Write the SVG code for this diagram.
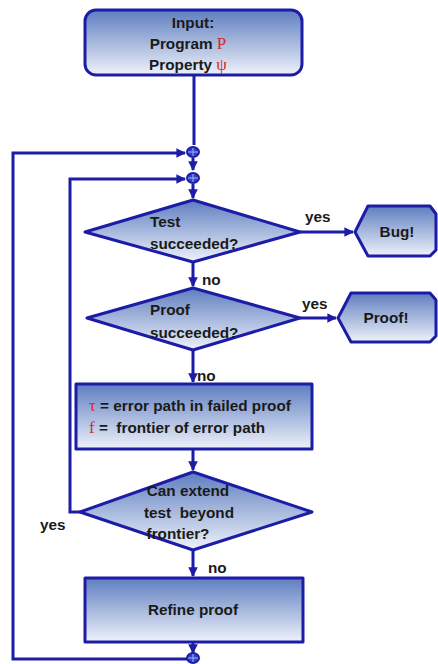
<svg xmlns="http://www.w3.org/2000/svg" width="438" height="664" viewBox="0 0 438 664">
<defs>
<linearGradient id="g" x1="0" y1="0" x2="0" y2="1">
<stop offset="0" stop-color="#5f7ec0"/>
<stop offset="1" stop-color="#eef2fa"/>
</linearGradient>
<marker id="ah" viewBox="0 0 10 10" refX="9" refY="5" markerWidth="3.2" markerHeight="3.2" orient="auto" markerUnits="strokeWidth">
<path d="M0,0 L10,5 L0,10 z" fill="#1c1ca6"/>
</marker>
</defs>
<style>
.sh{fill:url(#g);stroke:#1c1ca6;stroke-width:3;stroke-linejoin:round}
.ln{fill:none;stroke:#1c1ca6;stroke-width:3}
.t{font-family:"Liberation Sans",Arial,sans-serif;font-weight:bold;font-size:15.3px;fill:#1a1a1a;white-space:pre}
.r{font-family:"Liberation Serif","Times New Roman",serif;font-weight:normal;font-size:17px;fill:#d42a2a}
.j{fill:#3040c8;stroke:#1c1ca6;stroke-width:2}
.jx{stroke:#8fa6e8;stroke-width:1.2}
</style>

<g id="connectors">
<line class="ln" x1="194" y1="76" x2="194" y2="145"/>
<line class="ln" x1="193" y1="158" x2="193" y2="170" marker-end="url(#ah)"/>
<line class="ln" x1="193" y1="184" x2="193" y2="198" marker-end="url(#ah)"/>
<line class="ln" x1="300" y1="232" x2="353" y2="232" marker-end="url(#ah)"/>
<line class="ln" x1="193" y1="262" x2="193" y2="286" marker-end="url(#ah)"/>
<line class="ln" x1="300" y1="318" x2="336" y2="318" marker-end="url(#ah)"/>
<line class="ln" x1="193" y1="350" x2="193" y2="382" marker-end="url(#ah)"/>
<line class="ln" x1="193" y1="449" x2="193" y2="470" marker-end="url(#ah)"/>
<line class="ln" x1="193" y1="550" x2="193" y2="576" marker-end="url(#ah)"/>
<line class="ln" x1="193" y1="642" x2="193" y2="653" marker-end="url(#ah)"/>
<polyline class="ln" points="80,512 70,512 70,179 185,179" marker-end="url(#ah)"/>
<polyline class="ln" points="187,659 13,659 13,153 185,153" marker-end="url(#ah)"/>
<text class="t" x="305" y="222">yes</text>
<text class="t" x="302" y="309">yes</text>
<text class="t" x="202" y="285">no</text>
<text class="t" x="197" y="381">no</text>
<text class="t" x="208" y="573">no</text>
<text class="t" x="40" y="530">yes</text>
</g>

<g id="input">
<rect class="sh" x="85" y="10" width="217" height="65" rx="11"/>
<text class="t" x="193" y="28" text-anchor="middle">Input:</text>
<text class="t" x="188" y="49" text-anchor="middle">Program <tspan class="r">P</tspan></text>
<text class="t" x="188" y="70" text-anchor="middle">Property <tspan class="r">ψ</tspan></text>
</g>

<g id="junction1">
<ellipse class="j" cx="193" cy="152" rx="6" ry="5"/>
<line class="jx" x1="188" y1="152" x2="198" y2="152"/>
<line class="jx" x1="193" y1="148" x2="193" y2="156"/>
</g>
<g id="junction2">
<ellipse class="j" cx="193" cy="178" rx="6" ry="5"/>
<line class="jx" x1="188" y1="178" x2="198" y2="178"/>
<line class="jx" x1="193" y1="174" x2="193" y2="182"/>
</g>
<g id="junction3">
<ellipse class="j" cx="193" cy="658" rx="6" ry="5"/>
<line class="jx" x1="188" y1="658" x2="198" y2="658"/>
<line class="jx" x1="193" y1="654" x2="193" y2="662"/>
</g>

<g id="test">
<polygon class="sh" points="193,200 300,232 193,262 85,232"/>
<text class="t" x="150" y="227">Test</text>
<text class="t" x="150" y="249">succeeded?</text>
</g>

<g id="bug">
<polygon class="sh" points="355,232 368,206 430,206 436,214 436,250 430,256 368,256"/>
<text class="t" x="397" y="237" text-anchor="middle">Bug!</text>
</g>

<g id="proof">
<polygon class="sh" points="193,288 300,318 193,350 87,318"/>
<text class="t" x="150" y="315">Proof</text>
<text class="t" x="150" y="338">succeeded?</text>
</g>

<g id="proofdone">
<polygon class="sh" points="338,318 351,293 430,293 436,300 436,336 430,342 351,342"/>
<text class="t" x="386" y="323" text-anchor="middle">Proof!</text>
</g>

<g id="errorpath">
<rect class="sh" x="76" y="384" width="236" height="65"/>
<text class="t" x="89" y="411"><tspan class="r">τ</tspan> = error path in failed proof</text>
<text class="t" x="89" y="433"><tspan class="r">f</tspan> =  frontier of error path</text>
</g>

<g id="extend">
<polygon class="sh" points="193,472 312,512 193,550 80,512"/>
<text class="t" x="188" y="496" text-anchor="middle">Can extend</text>
<text class="t" x="189" y="518" text-anchor="middle">test  beyond</text>
<text class="t" x="178" y="539" text-anchor="middle">frontier?</text>
</g>

<g id="refine">
<rect class="sh" x="85" y="578" width="218" height="64"/>
<text class="t" x="193" y="615" text-anchor="middle">Refine proof</text>
</g>
</svg>
